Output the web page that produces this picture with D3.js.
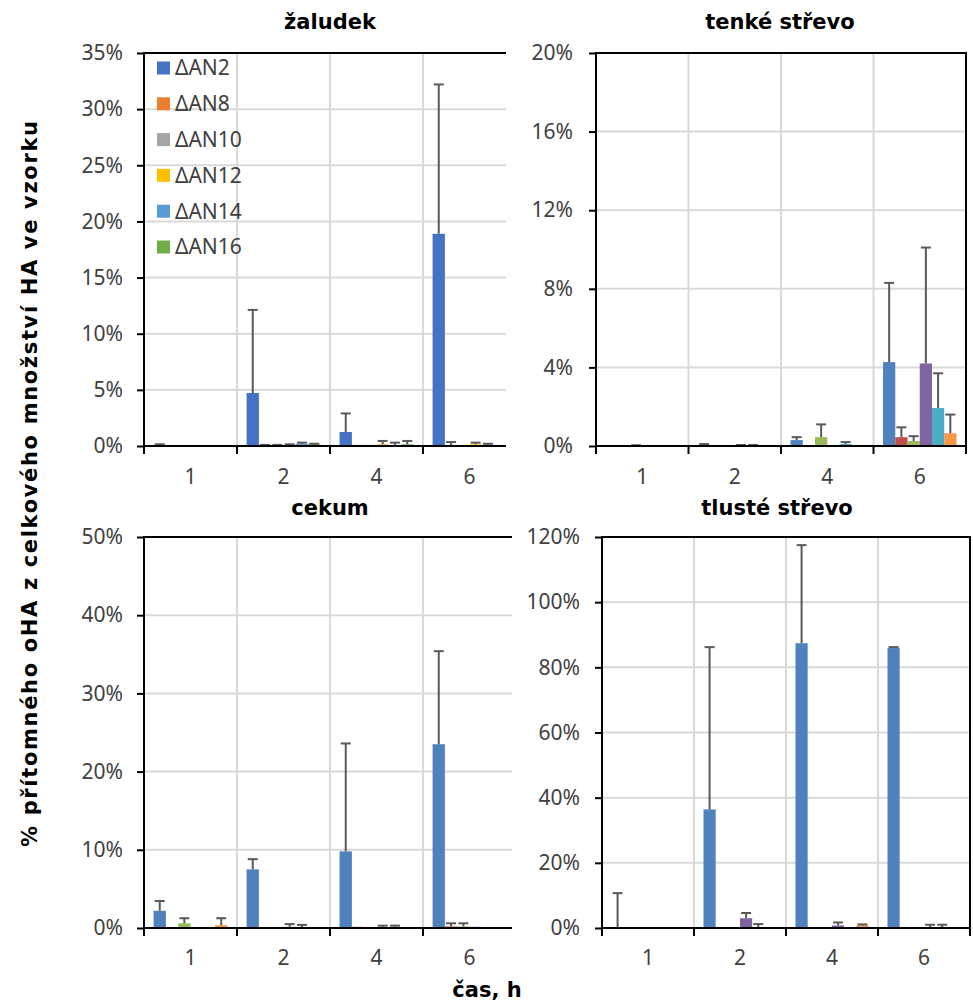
<!DOCTYPE html>
<html><head><meta charset="utf-8">
<script src="https://cdn.jsdelivr.net/npm/d3@7"></script>
<style>body{margin:0;background:#fff}svg{display:block}</style>
</head><body>
<svg id="c" width="973" height="1008"></svg>
<script>
// ---------- data ----------
const categories = ["1", "2", "4", "6"];
const seriesNames = ["ΔAN2", "ΔAN8", "ΔAN10", "ΔAN12", "ΔAN14", "ΔAN16"];
const panelTitles = ["žaludek", "tenké střevo", "cekum", "tlusté střevo"];

// values in %, one row per series, one column per category
const zaludekValues = [
  [0.05, 4.72, 1.25, 18.9],
  [0, 0.05, 0.1, 0.1],
  [0, 0.05, 0.1, 0.05],
  [0, 0.1, 0.15, 0.15],
  [0, 0.2, 0.05, 0.1],
  [0, 0.15, 0.15, 0.05]
];
const zaludekErrors = [
  [0.1, 7.4, 1.65, 13.3],
  [0, 0.05, 0, 0.25],
  [0, 0.05, 0, 0],
  [0, 0.05, 0.3, 0.15],
  [0, 0.1, 0.25, 0.1],
  [0, 0.05, 0.3, 0]
];
const tenkeValues = [
  [0, 0.05, 0.3, 4.27],
  [0, 0, 0.05, 0.45],
  [0.02, 0, 0.45, 0.25],
  [0, 0.03, 0, 4.2],
  [0, 0.03, 0.1, 1.93],
  [0, 0, 0, 0.65]
];
const tenkeErrors = [
  [0, 0.05, 0.15, 4.03],
  [0, 0, 0, 0.5],
  [0.02, 0, 0.65, 0.25],
  [0, 0.02, 0, 5.9],
  [0, 0.02, 0.1, 1.77],
  [0, 0, 0, 0.95]
];
const cekumValues = [
  [2.2, 7.5, 9.8, 23.5],
  [0, 0.1, 0.15, 0.2],
  [0.6, 0, 0, 0.2],
  [0, 0.15, 0.05, 0.15],
  [0, 0.1, 0.05, 0],
  [0.35, 0.05, 0.05, 0.1]
];
const cekumErrors = [
  [1.25, 1.3, 13.8, 11.9],
  [0, 0, 0, 0.4],
  [0.65, 0, 0, 0.4],
  [0, 0.35, 0.25, 0],
  [0, 0.3, 0.25, 0],
  [0.9, 0, 0, 0]
];
const tlusteValues = [
  [0, 36.4, 87.4, 85.9],
  [0, 0.1, 0.1, 0.1],
  [0, 0, 0, 0],
  [0.2, 3.0, 0.8, 0.2],
  [0.2, 0.2, 0.2, 0.2],
  [0, 0.1, 0.8, 0.1]
];
const tlusteErrors = [
  [10.7, 49.8, 30.1, 0.3],
  [0, 0, 0, 0],
  [0, 0, 0, 0],
  [0, 1.6, 0.9, 0.8],
  [0, 1.0, 0, 0.8],
  [0, 0, 0.3, 0]
];
const yTicksZaludek = [0, 5, 10, 15, 20, 25, 30, 35];
const yTicksTenke = [0, 4, 8, 12, 16, 20];
const yTicksCekum = [0, 10, 20, 30, 40, 50];
const yTicksTluste = [0, 20, 40, 60, 80, 100, 120];

const palette2013 = ["#4472C4", "#ED7D31", "#A5A5A5", "#FFC000", "#5B9BD5", "#70AD47"];
const palette2007 = ["#4F81BD", "#C0504D", "#9BBB59", "#8064A2", "#4BACC6", "#F79646"];

// ---------- layout ----------
const panels = [
  {title: panelTitles[0], vals: zaludekValues, errs: zaludekErrors, ticks: yTicksZaludek, colors: palette2013,
   x0: 144, x1: 516, y0: 53, y1: 446, labelX: 123, xLabY: 477, titleX: 330, titleY: 22, legend: true},
  {title: panelTitles[1], vals: tenkeValues, errs: tenkeErrors, ticks: yTicksTenke, colors: palette2007,
   x0: 596, x1: 966, y0: 53, y1: 446, labelX: 573, xLabY: 477, titleX: 780, titleY: 22},
  {title: panelTitles[2], vals: cekumValues, errs: cekumErrors, ticks: yTicksCekum, colors: palette2007,
   x0: 144, x1: 516, y0: 537, y1: 928, labelX: 123, xLabY: 958, titleX: 330, titleY: 508},
  {title: panelTitles[3], vals: tlusteValues, errs: tlusteErrors, ticks: yTicksTluste, colors: palette2007,
   x0: 602, x1: 970, y0: 537, y1: 928, labelX: 580, xLabY: 958, titleX: 777, titleY: 508}
];

const svg = d3.select("#c");
const tickFont = "'Noto Sans', 'DejaVu Sans', sans-serif";
const boldFont = "'DejaVu Sans', 'Noto Sans', sans-serif";

panels.forEach(p => {
  const g = svg.append("g");
  // white background (covers neighbouring panel overflow)
  g.append("rect").attr("x", p.x0 - 90).attr("y", p.y0 - 50).attr("width", p.x1 - p.x0 + 95)
    .attr("height", p.y1 - p.y0 + 95).attr("fill", "#fff");

  const xBand = d3.scaleBand().domain(categories).range([p.x0, p.x1]).padding(0);
  const xIn = d3.scaleBand().domain(d3.range(seriesNames.length)).range([0, xBand.bandwidth()])
    .paddingInner(0).paddingOuter(0.78);
  const yMax = p.ticks[p.ticks.length - 1];
  const y = d3.scaleLinear().domain([0, yMax]).range([p.y1, p.y0]);

  // gridlines
  g.append("g").selectAll("line.h").data(p.ticks.slice(1, -1)).join("line")
    .attr("x1", p.x0).attr("x2", p.x1).attr("y1", d => y(d)).attr("y2", d => y(d))
    .attr("stroke", "#d9d9d9").attr("stroke-width", 2);
  g.append("g").selectAll("line.v").data(categories.slice(1)).join("line")
    .attr("x1", d => xBand(d)).attr("x2", d => xBand(d)).attr("y1", p.y0).attr("y2", p.y1)
    .attr("stroke", "#d9d9d9").attr("stroke-width", 2);

  // bars
  const cells = [];
  p.vals.forEach((row, si) => row.forEach((v, ci) => cells.push({si, ci, v, e: p.errs[si][ci]})));
  g.append("g").selectAll("rect").data(cells.filter(d => d.v > 0)).join("rect")
    .attr("x", d => xBand(categories[d.ci]) + xIn(d.si))
    .attr("y", d => y(d.v))
    .attr("width", xIn.bandwidth())
    .attr("height", d => y(0) - y(d.v))
    .attr("fill", d => p.colors[d.si]);

  // error bars
  const eg = g.append("g").attr("stroke", "#595959").attr("stroke-width", 2);
  const errCells = cells.filter(d => d.e > 0);
  const cx = d => xBand(categories[d.ci]) + xIn(d.si) + xIn.bandwidth() / 2;
  eg.selectAll("line.s").data(errCells).join("line")
    .attr("x1", cx).attr("x2", cx).attr("y1", d => y(d.v)).attr("y2", d => y(d.v + d.e));
  eg.selectAll("line.c").data(errCells).join("line")
    .attr("x1", d => cx(d) - 5).attr("x2", d => cx(d) + 5)
    .attr("y1", d => y(d.v + d.e)).attr("y2", d => y(d.v + d.e));

  // plot outline
  g.append("rect").attr("x", p.x0).attr("y", p.y0).attr("width", p.x1 - p.x0).attr("height", p.y1 - p.y0)
    .attr("fill", "none").attr("stroke", "#000").attr("stroke-width", 2);

  // y axis
  const ya = g.append("g").attr("transform", `translate(${p.x0},0)`)
    .call(d3.axisLeft(y).tickValues(p.ticks).tickSize(7).tickPadding(p.x0 - p.labelX - 7).tickFormat(d => d + "%"));
  ya.select(".domain").remove();
  ya.selectAll(".tick line").attr("stroke", "#000").attr("stroke-width", 2);
  ya.selectAll(".tick text").attr("font-family", tickFont).attr("font-size", 21).attr("fill", "#404040");

  // x axis: boundary ticks + centered labels
  const bounds = categories.map(c => xBand(c)).concat([p.x1]);
  g.append("g").selectAll("line").data(bounds).join("line")
    .attr("x1", d => d).attr("x2", d => d).attr("y1", p.y1).attr("y2", p.y1 + 8)
    .attr("stroke", "#000").attr("stroke-width", 2);
  g.append("g").selectAll("text").data(categories).join("text")
    .attr("x", d => xBand(d) + xBand.bandwidth() / 2).attr("y", p.xLabY)
    .attr("dy", "0.35em").attr("text-anchor", "middle")
    .attr("font-family", tickFont).attr("font-size", 21).attr("fill", "#404040").text(d => d);

  // title
  g.append("text").attr("x", p.titleX).attr("y", p.titleY).attr("dy", "0.35em").attr("text-anchor", "middle")
    .attr("font-family", boldFont).attr("font-weight", "bold").attr("font-size", 21).attr("fill", "#000")
    .text(p.title);

  // legend
  if (p.legend) {
    const lg = g.append("g");
    seriesNames.forEach((s, i) => {
      const ly = 68 + i * 35.8;
      lg.append("rect").attr("x", 157).attr("y", ly - 6.5).attr("width", 13).attr("height", 13).attr("fill", p.colors[i]);
      lg.append("text").attr("x", 175).attr("y", ly).attr("dy", "0.35em")
        .attr("font-family", tickFont).attr("font-size", 21).attr("fill", "#404040").text(s);
    });
  }
});

// shared axis titles
svg.append("text").attr("transform", "translate(30,484) rotate(-90)").attr("dy", "0.35em")
  .attr("text-anchor", "middle").attr("font-family", boldFont).attr("font-weight", "bold")
  .attr("font-size", 21).attr("fill", "#000").attr("textLength", 726).attr("lengthAdjust", "spacing")
  .text("% přítomného oHA z celkového množství HA ve vzorku");
svg.append("text").attr("x", 487).attr("y", 990).attr("dy", "0.35em").attr("text-anchor", "middle")
  .attr("font-family", boldFont).attr("font-weight", "bold").attr("font-size", 21).attr("fill", "#000")
  .text("čas, h");
</script>
</body></html>
